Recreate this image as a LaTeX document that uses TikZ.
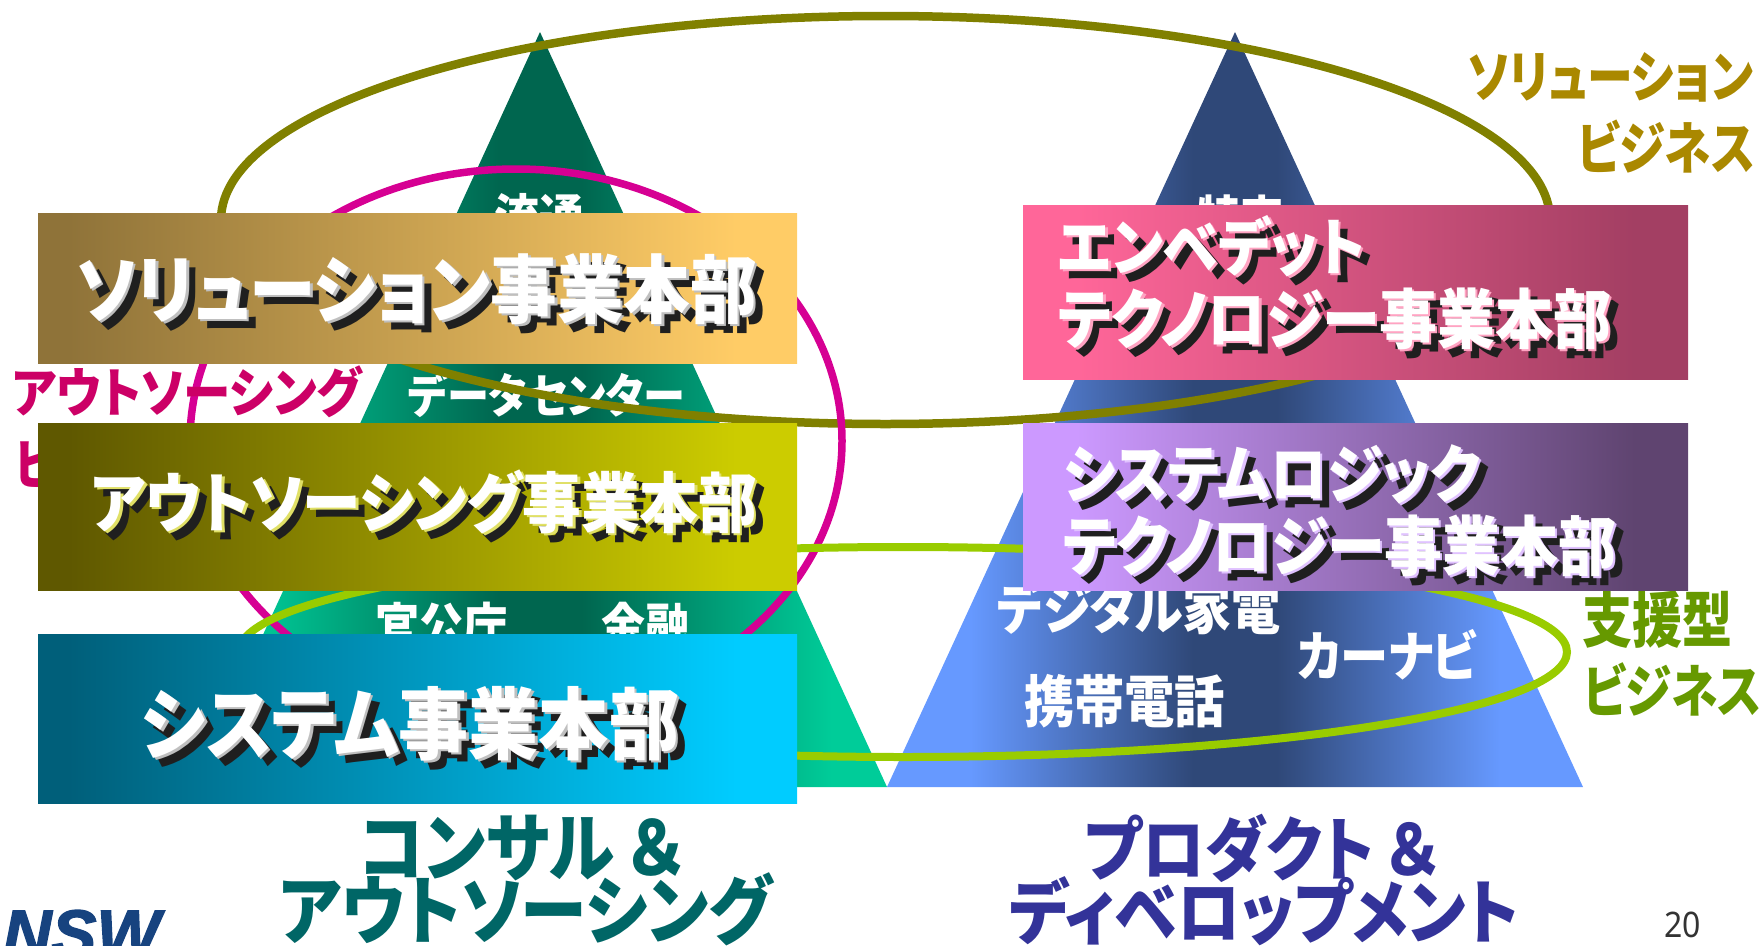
\documentclass[tikz,border=0pt]{standalone}
\usepackage{fontspec}
\usepackage{graphicx}
\newfontfamily\cjk[RawFeature=+palt]{Noto Sans CJK JP}
\setmainfont{Noto Sans}
\definecolor{triG}{HTML}{00CC99}\definecolor{triGd}{HTML}{00664F}
\definecolor{triB}{HTML}{6699FF}\definecolor{triBd}{HTML}{2F4878}
\definecolor{oliveL}{HTML}{808000}\definecolor{pinkL}{HTML}{D60093}\definecolor{greenL}{HTML}{99CC00}
\definecolor{txtPink}{HTML}{CC0066}\definecolor{txtGold}{HTML}{AA8800}\definecolor{txtGreen}{HTML}{669900}
\definecolor{txtTeal}{HTML}{006666}\definecolor{txtBlue}{HTML}{333399}\definecolor{logoB}{HTML}{17437F}
\definecolor{numG}{HTML}{333333}
\pgfdeclarehorizontalshading{shTriG}{100bp}{color(0bp)=(triG);color(25bp)=(triG);color(29bp)=(triG);color(47bp)=(triGd);color(53bp)=(triGd);color(71bp)=(triG);color(75bp)=(triG);color(100bp)=(triG)}
\pgfdeclarehorizontalshading{shTriB}{100bp}{color(0bp)=(triB);color(25bp)=(triB);color(31bp)=(triB);color(47bp)=(triBd);color(53bp)=(triBd);color(69bp)=(triB);color(75bp)=(triB);color(100bp)=(triB)}
\definecolor{a1}{HTML}{8F7339}\definecolor{a2}{HTML}{FFCC66}
\definecolor{b1}{HTML}{5F5800}\definecolor{b2}{HTML}{CCCC00}
\definecolor{c1}{HTML}{005F7A}\definecolor{c2}{HTML}{00CCFF}
\definecolor{d1}{HTML}{FF6699}\definecolor{d2}{HTML}{A33F63}
\definecolor{e1}{HTML}{CC99FF}\definecolor{e2}{HTML}{5F4470}
\pgfdeclarehorizontalshading{shA}{100bp}{color(0bp)=(a1);color(25bp)=(a1);color(27bp)=(a1);color(71bp)=(a2);color(75bp)=(a2);color(100bp)=(a2)}
\pgfdeclarehorizontalshading{shB}{100bp}{color(0bp)=(b1);color(25bp)=(b1);color(27bp)=(b1);color(71bp)=(b2);color(75bp)=(b2);color(100bp)=(b2)}
\pgfdeclarehorizontalshading{shC}{100bp}{color(0bp)=(c1);color(25bp)=(c1);color(27bp)=(c1);color(71bp)=(c2);color(75bp)=(c2);color(100bp)=(c2)}
\pgfdeclarehorizontalshading{shD}{100bp}{color(0bp)=(d1);color(25bp)=(d1);color(29bp)=(d1);color(71bp)=(d2);color(75bp)=(d2);color(100bp)=(d2)}
\pgfdeclarehorizontalshading{shE}{100bp}{color(0bp)=(e1);color(25bp)=(e1);color(29bp)=(e1);color(71bp)=(e2);color(75bp)=(e2);color(100bp)=(e2)}
\tikzset{
  lbl/.style={inner sep=0pt,outer sep=0pt,anchor=base west},
  ringline/.style 2 args={line width=#2pt,draw=#1},
}
\newcommand{\yst}{1.12}
% name, x, baseline y, width, colour, text
\newcommand{\fitlabel}[6]{\node[lbl,text=#5] (#1) at (#2,#3) {\scalebox{1}[\yst]{\resizebox{#4pt}{!}{\cjk\bfseries\fontsize{60}{60}\selectfont #6}}};}
% name, x, baseline y, width, middle colour, text
\newcommand{\shlabel}[6]{%
  \fitlabel{#1s}{#2+9}{#3+9}{#4}{black!88}{#6}
  \fitlabel{#1m}{#2+2.5}{#3+2.5}{#4}{#5}{#6}
  \fitlabel{#1}{#2}{#3}{#4}{white}{#6}}
\begin{document}
\begin{tikzpicture}[x=1pt,y=-1pt]
\useasboundingbox (0,0) rectangle (1764,945);
% pyramids
\shade[shading=shTriG] (540,32) -- (887,787) -- (193,787) -- cycle;
\shade[shading=shTriB] (1235,32) -- (1583,787) -- (887,787) -- cycle;
% labels inside the pyramids
\fitlabel{ryutsu}{494}{236}{90}{white}{流通}
\fitlabel{datac}{408}{413}{277}{white}{データセンター}
\fitlabel{kankocho}{375}{644}{133}{white}{官公庁}
\fitlabel{kinyu}{601}{644}{88}{white}{金融}
\fitlabel{tokutei}{1197}{236}{87}{white}{特定}
\fitlabel{digital}{997}{629}{284}{white}{デジタル家電}
\fitlabel{carnavi}{1297}{676}{180}{white}{カーナビ}
\fitlabel{keitai}{1024}{722}{201}{white}{携帯電話}
% rings
\draw[ringline={oliveL}{8.5}] (885.5,220) ellipse [x radius=664.5,y radius=204];
\draw[ringline={pinkL}{7.5}] (516,441) ellipse [x radius=326,y radius=272];
\draw[ringline={greenL}{8}] (903,652) ellipse [x radius=664,y radius=105];
% business labels
\fitlabel{outs}{12}{412}{350}{txtPink}{アウトソーシング}
\fitlabel{outb}{15}{484}{188}{txtPink}{ビジネス}
\renewcommand{\yst}{1.22}
\fitlabel{sol}{1468}{97}{285}{txtGold}{ソリューション}
\fitlabel{solb}{1577}{169}{178}{txtGold}{ビジネス}
\fitlabel{shien}{1582}{642}{150}{txtGreen}{支援型}
\fitlabel{shienb}{1583}{712}{179}{txtGreen}{ビジネス}
\renewcommand{\yst}{1.12}
% division boxes
\shade[shading=shA] (38,213) rectangle (797,363);
\shade[shading=shB] (38,423) rectangle (797,590);
\shade[shading=shC] (38,634) rectangle (797,803);
\shade[shading=shD] (1023,205) rectangle (1688,379);
\shade[shading=shE] (1023,423) rectangle (1688,590);
% division titles
\shlabel{tsol}{76}{317}{681}{black!25}{ソリューション事業本部}
\shlabel{tout}{91}{527}{666}{b2!60!white}{アウトソーシング事業本部}
\shlabel{tsys}{141}{753}{538}{black!25}{システム事業本部}
\shlabel{tem}{1058}{270}{307}{d1!60!white}{エンベデット}
\shlabel{temb}{1058}{343}{553}{d1!60!white}{テクノロジー事業本部}
\shlabel{tlog}{1063}{497}{417}{e1!60!white}{システムロジック}
\shlabel{tlogb}{1063}{570}{553}{e1!60!white}{テクノロジー事業本部}
% captions
\fitlabel{cap1}{359}{875}{324}{txtTeal}{コンサル\kern0.2em ＆}
\fitlabel{cap2}{279}{938}{493}{txtTeal}{アウトソーシング}
\fitlabel{cap3}{1084}{875}{354}{txtBlue}{プロダクト\kern0.2em ＆}
\fitlabel{cap4}{1009}{938}{510}{txtBlue}{ディベロップメント}
% logo and page number
\node[lbl,text=logoB] (logo) at (3,957) {\resizebox{157pt}{!}{\fontspec[FakeBold=2]{Liberation Sans}\bfseries\itshape\fontsize{60}{60}\selectfont NSW}};
\node[lbl,text=numG] (page) at (1664,937) {\scalebox{1}[1.1]{\fontsize{32}{32}\selectfont 20}};
\end{tikzpicture}
\end{document}
